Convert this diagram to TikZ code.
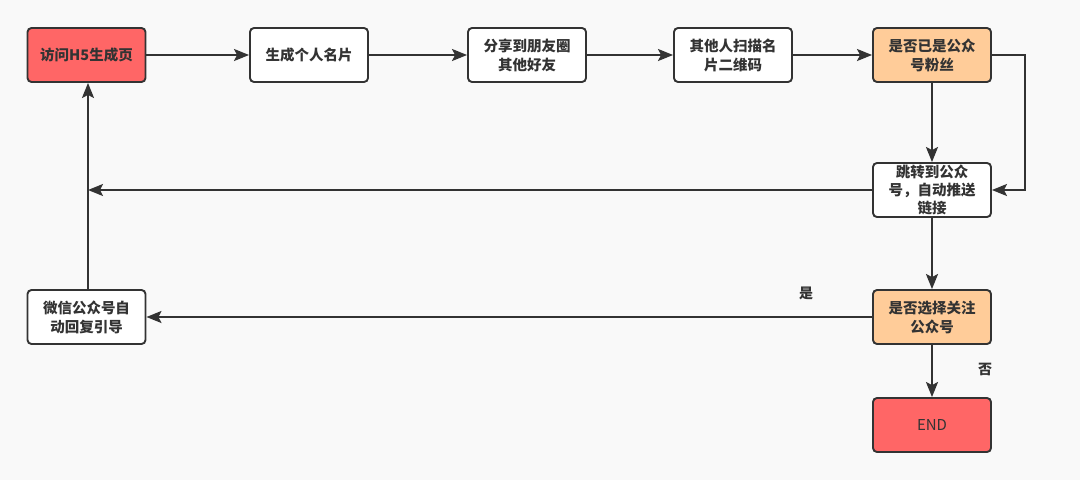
\documentclass[tikz,border=0pt]{standalone}
\usepackage{fontspec}
\setmainfont{Noto Sans CJK SC}
\usetikzlibrary{arrows.meta}
\definecolor{bg}{HTML}{F9F9F9}
\definecolor{ln}{HTML}{333333}
\definecolor{redf}{HTML}{FF6666}
\definecolor{orf}{HTML}{FFCC99}
\tikzset{
  box/.style={draw=ln, line width=1.9pt, rounded corners=4pt, fill=white,
    minimum width=118pt, minimum height=54pt, inner sep=2pt, align=center,
    text=ln, font=\fontsize{14.5}{19}\selectfont\bfseries, text width=110pt},
  redbox/.style={box, fill=redf},
  orbox/.style={box, fill=orf},
  conn/.style={draw=ln, line width=1.9pt, -{Stealth[length=15pt,width=12pt,inset=3pt]}},
  lab/.style={text=ln, font=\fontsize{14}{16}\selectfont\bfseries}
}
\begin{document}
\begin{tikzpicture}[x=1pt,y=-1pt]
\fill[bg] (0,0) rectangle (1080,480);
\useasboundingbox (0,0) rectangle (1080,480);
\node[redbox] (A) at (86.5,55) {访问H5生成页};
\node[box] (B) at (309,55) {生成个人名片};
\node[box] (C) at (527,55) {分享到朋友圈\\其他好友};
\node[box] (D) at (733,55) {其他人扫描名\\片二维码};
\node[orbox] (E) at (932,55) {是否已是公众\\号粉丝};
\node[box, text width=96pt, font=\fontsize{14.5}{18}\selectfont\bfseries] (F) at (932,190) {跳转到公众\\号，自动推送\\链接};
\node[orbox] (G) at (932,317) {是否选择关注\\公众号};
\node[redbox, font=\fontsize{15}{18}\selectfont] (H) at (932,425) {END};
\node[box] (I) at (86.5,317) {微信公众号自\\动回复引导};
\coordinate (J) at (88,190);
\coordinate (K) at (1025,55);
\coordinate (L) at (1025,190);
\draw[conn] (A) -- (B);
\draw[conn] (B) -- (C);
\draw[conn] (C) -- (D);
\draw[conn] (D) -- (E);
\draw[conn] (E) -- (F);
\draw[conn] (E.east) -- (K) -- (L) -- (F.east);
\draw[conn] (F.west) -- (J);
\draw[conn] (F) -- (G);
\draw[conn] (G) -- (I);
\draw[conn] (G) -- (H);
\draw[conn] (I.north -| J) -- (A.south -| J);
\node[lab] (yes) at (806,293) {是};
\node[lab] (no) at (985,369) {否};
\end{tikzpicture}
\end{document}
